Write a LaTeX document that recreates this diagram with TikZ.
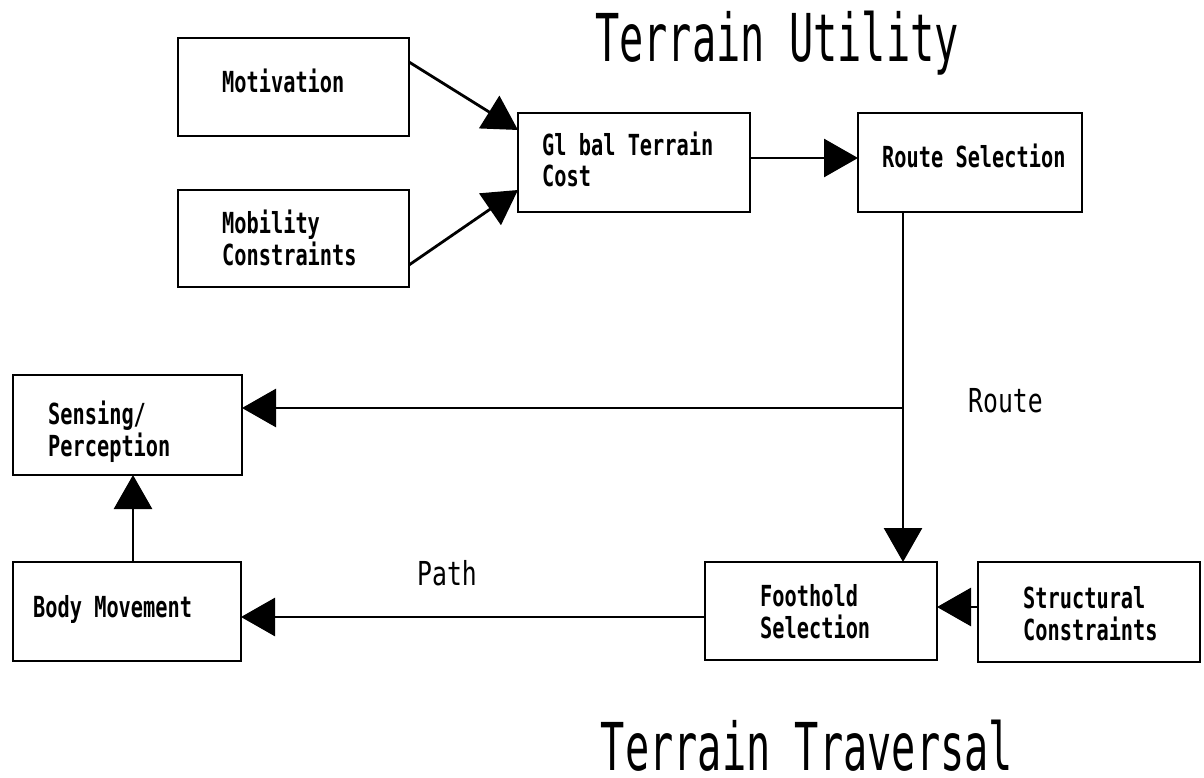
\documentclass[tikz,border=0pt]{standalone}
\usepackage{fontspec}
\usetikzlibrary{arrows.meta}
\newfontfamily\boxfont{DejaVu Sans Mono}[FakeStretch=0.70]
\newfontfamily\titlefont{DejaVu Sans Mono}[FakeStretch=0.61]
\newfontfamily\labelfont{DejaVu Sans Mono}[FakeStretch=0.75]
\begin{document}
\begin{tikzpicture}[x=1pt,y=-1pt,
  box/.style={draw, line width=2.8pt, inner sep=0pt, outer sep=0pt, anchor=north west},
  txt/.style={font=\boxfont\bfseries\fontsize{29}{32}\selectfont, inner sep=0pt, anchor=base west, align=left},
  lbl/.style={font=\labelfont\fontsize{33}{36}\selectfont, inner sep=0pt, anchor=base west},
  ttl/.style={font=\titlefont\fontsize{66}{70}\selectfont, inner sep=0pt, text depth=0pt, anchor=base},
  conn/.style={line width=2.8pt},
  arr/.style={conn, -{Triangle[length=34pt,width=38pt]}}]
\useasboundingbox (0,0) rectangle (1204,778);

% boxes
\node[box, minimum width=231pt, minimum height=98pt] (mot) at (178,38) {};
\node[box, minimum width=231pt, minimum height=97pt] (mob) at (178,190) {};
\node[box, minimum width=232pt, minimum height=99pt] (gtc) at (518,113) {};
\node[box, minimum width=224pt, minimum height=99pt] (route) at (858,113) {};
\node[box, minimum width=229pt, minimum height=100pt] (sens) at (13,375) {};
\node[box, minimum width=228pt, minimum height=99pt] (body) at (13,562) {};
\node[box, minimum width=232pt, minimum height=98pt] (foot) at (705,562) {};
\node[box, minimum width=222pt, minimum height=100pt] (struct) at (978,562) {};

% box texts (base anchor = baseline of last line)
\node[txt] (motT) at (222,93) {Motivation};
\node[txt] (mobT) at (222,265) {Mobility\\Constraints};
\node[txt] (gtcT) at (542,187) {Gl bal Terrain\\Cost};
\node[txt] (routeT) at (882,168) {Route Selection};
\node[txt] (sensT) at (48,456) {Sensing/\\Perception};
\node[txt] (bodyT) at (33,617) {Body Movement};
\node[txt] (footT) at (760,638) {Foothold\\Selection};
\node[txt] (structT) at (1023,640) {Structural\\Constraints};

% titles and labels
\node[ttl] (t1) at (777,62) {Terrain Utility};
\node[ttl] (t2) at (807,770) {Terrain Traversal};
\node[lbl] (routeL) at (968,412) {Route};
\node[lbl] (pathL) at (417,585) {Path};

% connectors
\draw[arr] ([yshift=-24pt]mot.north east) -- ([yshift=-17pt]gtc.north west);
\draw[arr] ([yshift=22pt]mob.south east) -- ([yshift=22pt]gtc.south west);
\coordinate (g) at ([yshift=4.5pt]gtc.east);
\draw[arr] (g) -- (g -| route.west);
\coordinate (j) at (903,408);
\draw[arr] (j |- route.south) -- (j |- foot.north);
\draw[arr] (j) -- (j -| sens.east);
\coordinate (s) at ([yshift=5pt]struct.west);
\draw[arr] (s) -- (s -| foot.east);
\coordinate (p) at ([yshift=-6pt]foot.west);
\draw[arr] (p) -- (p -| body.east);
\coordinate (b) at ([xshift=6pt]body.north);
\draw[arr] (b) -- (b |- sens.south);
\end{tikzpicture}
\end{document}
